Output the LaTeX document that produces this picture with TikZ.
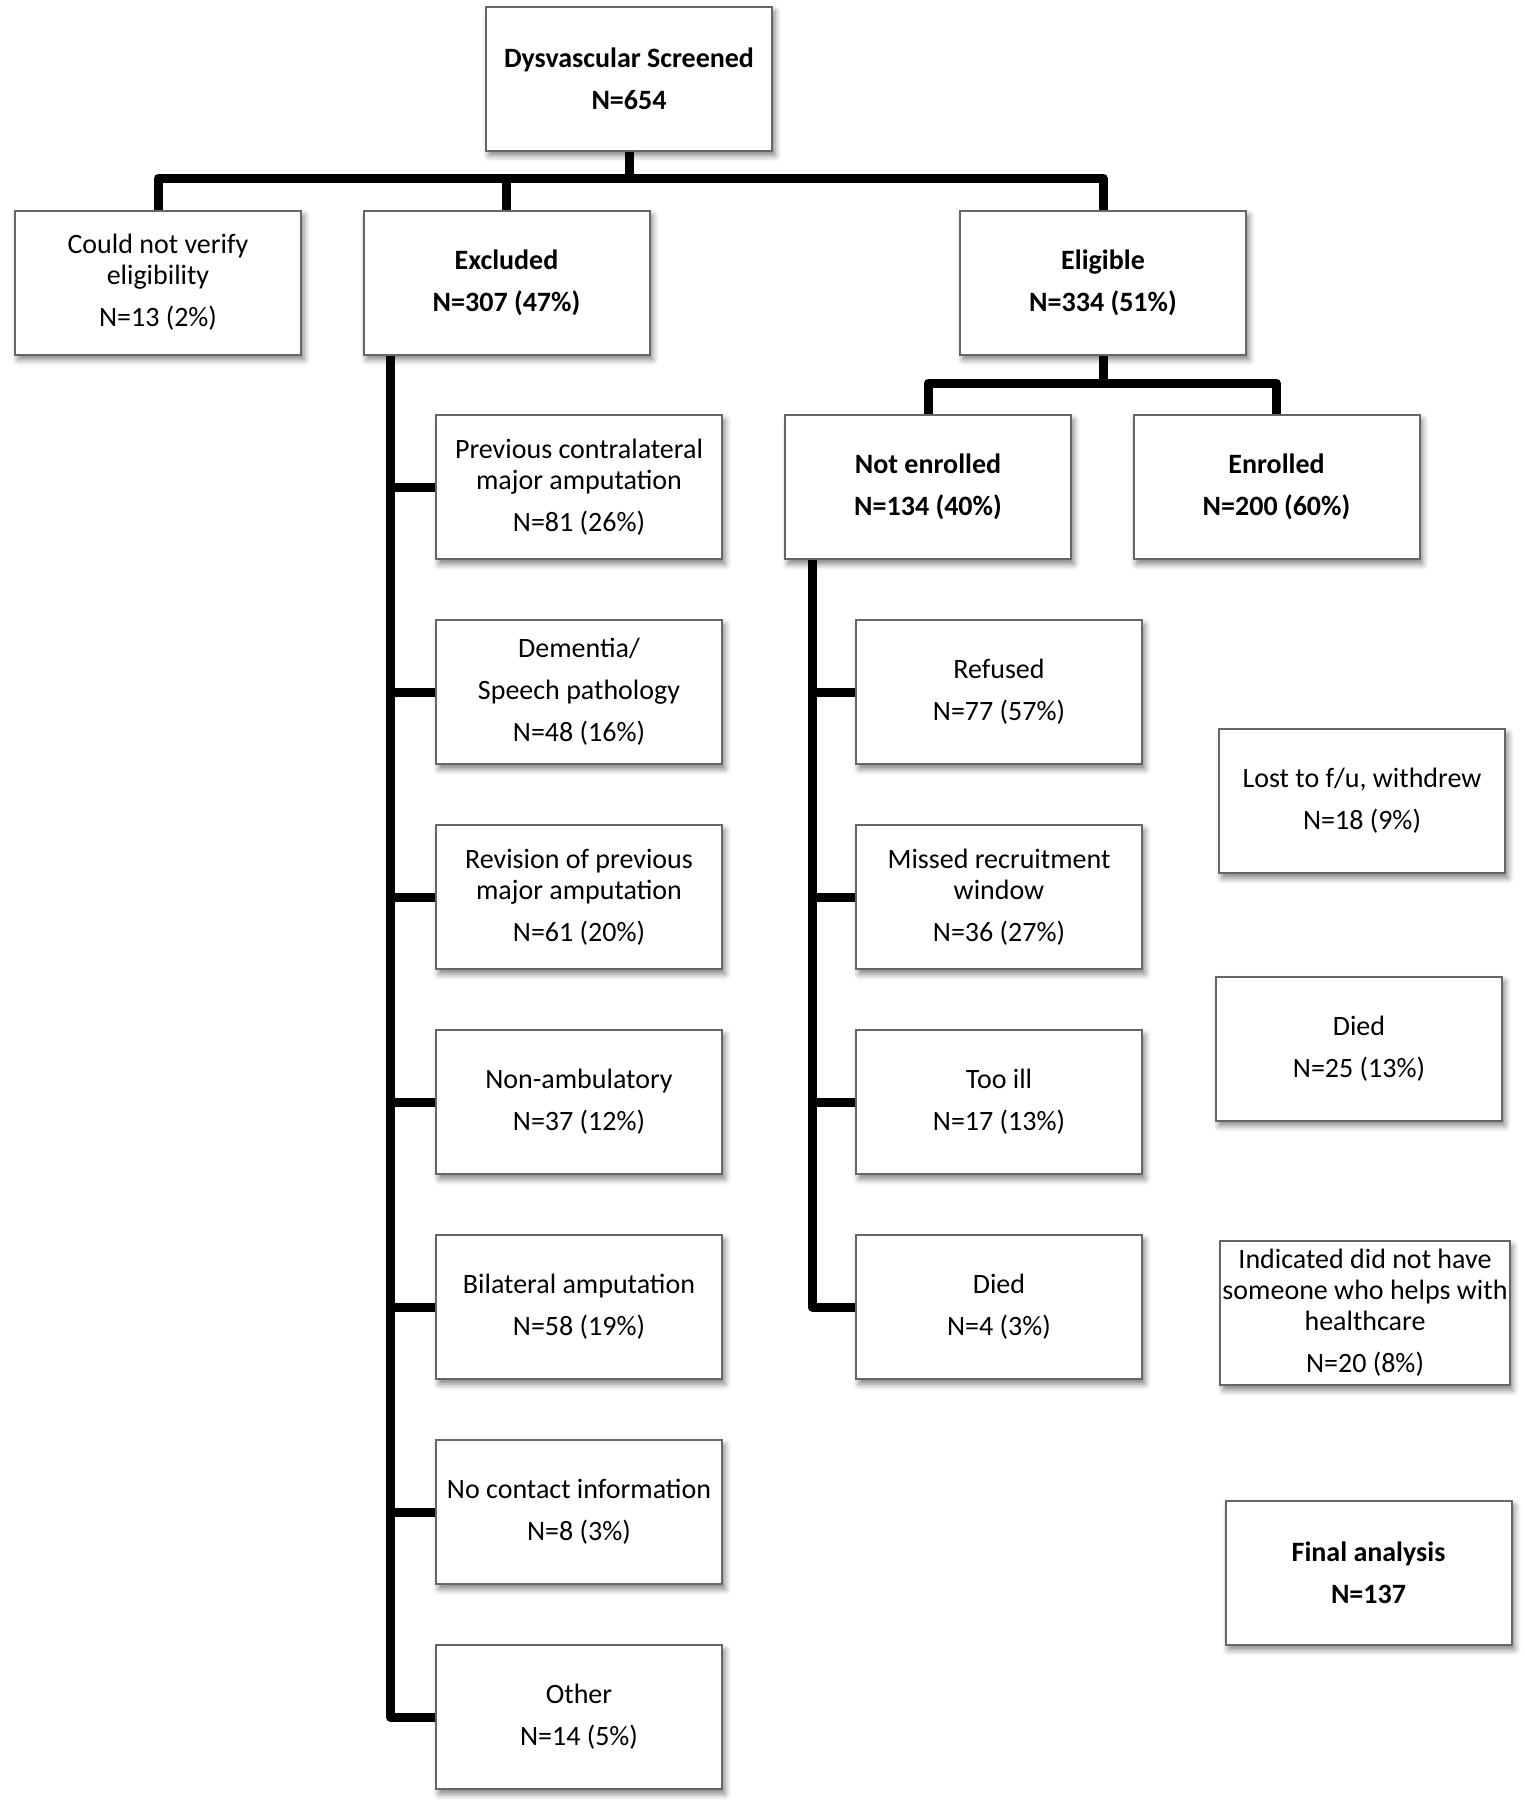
\documentclass[tikz,border=0pt]{standalone}
\usepackage{fontspec}
\setmainfont{Carlito}
\usetikzlibrary{positioning, shadows.blur}

\begin{document}
\begin{tikzpicture}[
  x=0.5pt, y=-0.5pt,
  node distance=29.5pt,
  box/.style={draw=black!60, line width=1pt, fill=white, align=center, minimum width=143pt, minimum height=72pt, inner xsep=1pt, inner ysep=2pt, font=\fontsize{14}{15.5}\selectfont, blur shadow={shadow xshift=1.5pt, shadow yshift=-2.5pt, shadow blur radius=3pt, shadow opacity=50}},
  bbox/.style={box, font=\fontsize{14}{15.5}\selectfont\bfseries},
  bar/.style={line width=4.5pt, line join=round}
]
\useasboundingbox (0,0) rectangle (1525,1805);
% top levels
\node[bbox] (screened) at (629,78.5) {Dysvascular Screened\\[5.5pt]N=654};
\node[box] (nover) at (158,282.5) {Could not verify\\eligibility\\[5.5pt]N=13 (2\%)};
\node[bbox] (excl) at (506.5,282.5) {Excluded\\[5.5pt]N=307 (47\%)};
\node[bbox] (elig) at (1103,282.5) {Eligible\\[5.5pt]N=334 (51\%)};
\node[bbox] (notenr) at (928,487) {Not enrolled\\[5.5pt]N=134 (40\%)};
\node[bbox] (enr) at (1276.5,487) {Enrolled\\[5.5pt]N=200 (60\%)};
% exclusion reasons
\node[box] (ex1) at (579,487) {Previous contralateral\\major amputation\\[5.5pt]N=81 (26\%)};
\node[box, below=of ex1] (ex2) {Dementia/\\[5.5pt]Speech pathology\\[5.5pt]N=48 (16\%)};
\node[box, below=of ex2] (ex3) {Revision of previous\\major amputation\\[5.5pt]N=61 (20\%)};
\node[box, below=of ex3] (ex4) {Non-ambulatory\\[5.5pt]N=37 (12\%)};
\node[box, below=of ex4] (ex5) {Bilateral amputation\\[5.5pt]N=58 (19\%)};
\node[box, below=of ex5] (ex6) {No contact information\\[5.5pt]N=8 (3\%)};
\node[box, below=of ex6] (ex7) {Other\\[5.5pt]N=14 (5\%)};
% not enrolled reasons
\node[box] (ne1) at (999,692) {Refused\\[5.5pt]N=77 (57\%)};
\node[box, below=of ne1] (ne2) {Missed recruitment\\window\\[5.5pt]N=36 (27\%)};
\node[box, below=of ne2] (ne3) {Too ill\\[5.5pt]N=17 (13\%)};
\node[box, below=of ne3] (ne4) {Died\\[5.5pt]N=4 (3\%)};
% follow-up
\node[box] (lost) at (1362,801) {Lost to f/u, withdrew\\[5.5pt]N=18 (9\%)};
\node[box] (died) at (1359,1048.5) {Died\\[5.5pt]N=25 (13\%)};
\node[box] (nohelp) at (1365,1313) {Indicated did not have\\someone who helps with\\healthcare\\[5.5pt]N=20 (8\%)};
\node[bbox] (final) at (1368.5,1572.5) {Final analysis\\[5.5pt]N=137};

% connectors
\coordinate (split) at (629,178);
\coordinate (esplit) at (1103,383);
\draw[bar] (screened) -- (split);
\draw[bar] (nover.north) |- (split) -| (elig.north);
\draw[bar] (excl.north) -- (excl.north |- split);
\draw[bar] (elig) -- (esplit);
\draw[bar] (notenr.north) |- (esplit) -| (enr.north);
\coordinate (extop) at ([xshift=14pt]excl.south west);
\coordinate (netop) at ([xshift=14pt]notenr.south west);
\draw[bar] (extop) |- (ex7.west);
\foreach \i in {1,...,6}
  \draw[bar] (ex\i.west) -- (ex\i.west -| extop);
\draw[bar] (netop) |- (ne4.west);
\foreach \i in {1,...,3}
  \draw[bar] (ne\i.west) -- (ne\i.west -| netop);
\end{tikzpicture}
\end{document}
